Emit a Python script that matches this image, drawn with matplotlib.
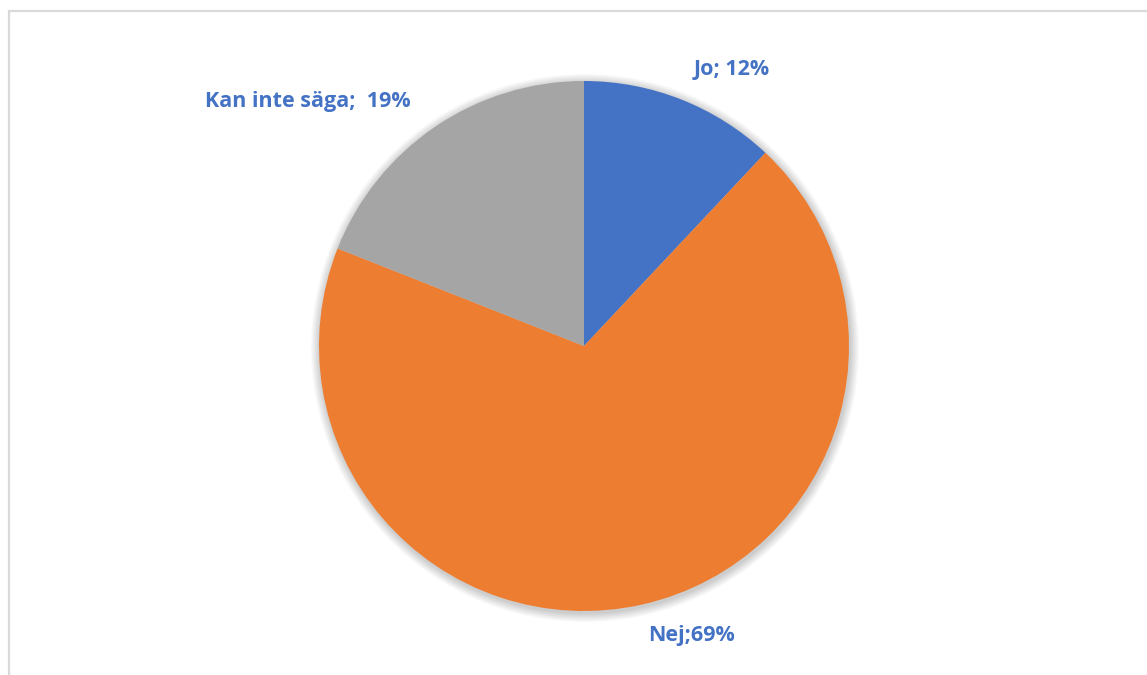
import matplotlib
matplotlib.use("Agg")
import matplotlib.pyplot as plt
from matplotlib.patches import Circle, Rectangle

# Survey answers
categories = ["Jo", "Nej", "Kan inte säga"]
shares = [12, 69, 19]
label_texts = ["Jo; 12%", "Nej;69%", "Kan inte säga;  19%"]
colors = ["#4472C4", "#ED7D31", "#A5A5A5"]

W, H = 1147, 675
fig = plt.figure(figsize=(W / 100, H / 100), dpi=100)
ax = fig.add_axes([0, 0, 1, 1])
ax.set_xlim(0, W)
ax.set_ylim(0, H)
ax.set_aspect("equal")
ax.axis("off")

cx, cy, r = 584, H - 346, 265

# soft outer shadow behind the pie
for i in range(10):
    ax.add_patch(Circle((cx + 1, cy - 2), r + 1 + i * 0.9, facecolor="black",
                        edgecolor="none", alpha=0.018, zorder=1))

wedges, _ = ax.pie(shares, colors=colors, startangle=90, counterclock=False,
                   center=(cx, cy), radius=r, frame=True,
                   wedgeprops=dict(linewidth=0, zorder=2))
ax.set_xlim(0, W)
ax.set_ylim(0, H)
ax.axis("off")

# chart frame (top and left edges visible)
ax.add_patch(Rectangle((8.5, -5), W + 10, H - 10.5 + 5, fill=False,
                       edgecolor="#D9D9D9", linewidth=1.6, zorder=0))

label_pos = [(732, H - 70), (691, H - 636), (308, H - 101)]
for txt, (x, y) in zip(label_texts, label_pos):
    ax.text(x, y, txt, ha="center", va="center", fontsize=15.5,
            fontweight="bold", color="#4472C4", family="Open Sans", zorder=5)

fig.savefig("out.png", dpi=100)
